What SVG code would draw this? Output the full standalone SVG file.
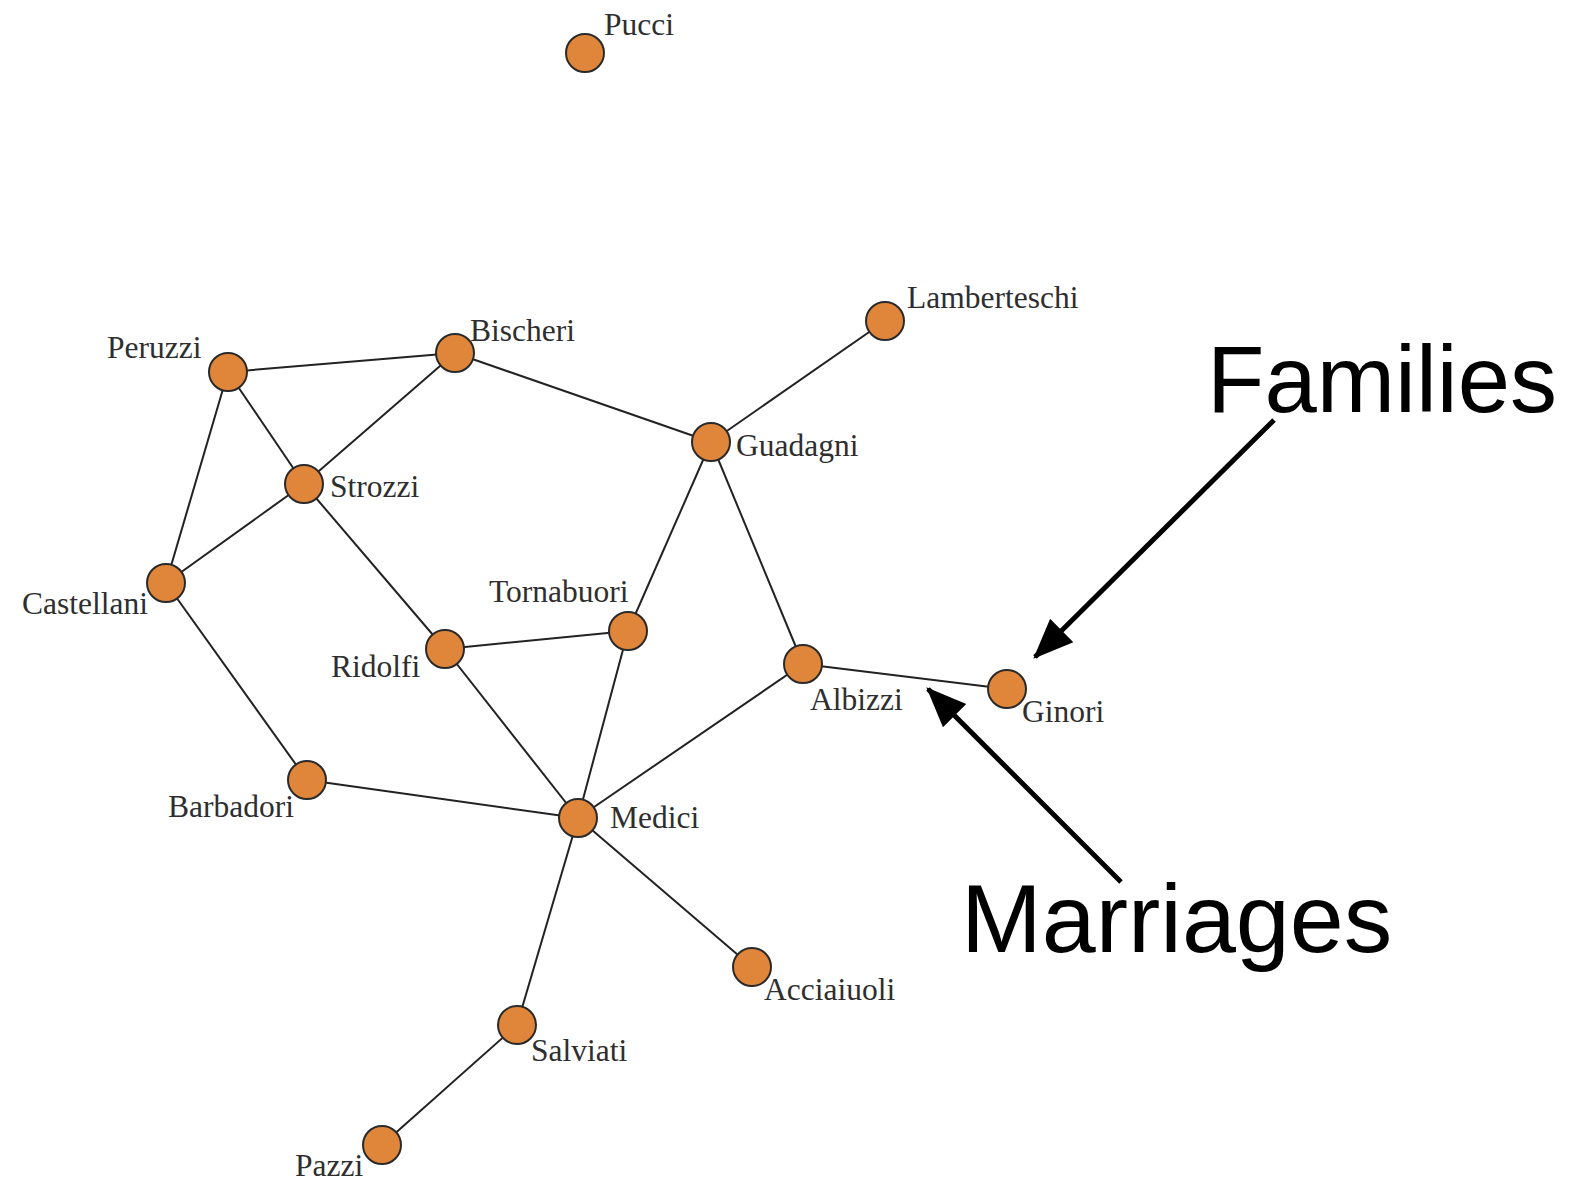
<svg xmlns="http://www.w3.org/2000/svg" width="1572" height="1182" viewBox="0 0 1572 1182">
<defs>
<style>
.edge{stroke:#222;stroke-width:2;fill:none}
.node circle{fill:#E0863A;stroke:#2a2a2a;stroke-width:2}
.node text{font-family:"Liberation Serif","Times New Roman",serif;font-size:31.5px;fill:#2e2e2e}
.big{font-family:"Liberation Sans",Arial,sans-serif;fill:#000}
.arrow{stroke:#000;stroke-width:5;fill:none}
</style>
<marker id="ah" markerUnits="userSpaceOnUse" markerWidth="40" markerHeight="40" viewBox="0 0 34 28" refX="32" refY="14" orient="auto">
<path d="M0,0 L34,14 L0,28 Z" fill="#000"/>
</marker>
</defs>
<rect width="1572" height="1182" fill="#fff"/>
<g id="connectors">
<line class="edge" x1="228" y1="372" x2="455" y2="353"/>
<line class="edge" x1="228" y1="372" x2="304" y2="484"/>
<line class="edge" x1="228" y1="372" x2="166" y2="583"/>
<line class="edge" x1="455" y1="353" x2="304" y2="484"/>
<line class="edge" x1="455" y1="353" x2="711" y2="442"/>
<line class="edge" x1="885" y1="321" x2="711" y2="442"/>
<line class="edge" x1="304" y1="484" x2="166" y2="583"/>
<line class="edge" x1="304" y1="484" x2="445" y2="649"/>
<line class="edge" x1="166" y1="583" x2="307" y2="780"/>
<line class="edge" x1="711" y1="442" x2="628" y2="631"/>
<line class="edge" x1="711" y1="442" x2="803" y2="664"/>
<line class="edge" x1="445" y1="649" x2="628" y2="631"/>
<line class="edge" x1="445" y1="649" x2="578" y2="818"/>
<line class="edge" x1="628" y1="631" x2="578" y2="818"/>
<line class="edge" x1="803" y1="664" x2="578" y2="818"/>
<line class="edge" x1="803" y1="664" x2="1007" y2="689"/>
<line class="edge" x1="307" y1="780" x2="578" y2="818"/>
<line class="edge" x1="578" y1="818" x2="752" y2="967"/>
<line class="edge" x1="578" y1="818" x2="517" y2="1025"/>
<line class="edge" x1="517" y1="1025" x2="382" y2="1145"/>
</g>
<g id="node-pucci" class="node"><circle cx="585" cy="53" r="19"/><text x="604" y="35">Pucci</text></g>
<g id="node-lamberteschi" class="node"><circle cx="885" cy="321" r="19"/><text x="907" y="308">Lamberteschi</text></g>
<g id="node-bischeri" class="node"><circle cx="455" cy="353" r="19"/><text x="470" y="341">Bischeri</text></g>
<g id="node-peruzzi" class="node"><circle cx="228" cy="372" r="19"/><text x="107" y="358">Peruzzi</text></g>
<g id="node-guadagni" class="node"><circle cx="711" cy="442" r="19"/><text x="736" y="456">Guadagni</text></g>
<g id="node-strozzi" class="node"><circle cx="304" cy="484" r="19"/><text x="330" y="497">Strozzi</text></g>
<g id="node-castellani" class="node"><circle cx="166" cy="583" r="19"/><text x="22" y="614">Castellani</text></g>
<g id="node-tornabuori" class="node"><circle cx="628" cy="631" r="19"/><text x="489" y="602">Tornabuori</text></g>
<g id="node-ridolfi" class="node"><circle cx="445" cy="649" r="19"/><text x="331" y="677">Ridolfi</text></g>
<g id="node-albizzi" class="node"><circle cx="803" cy="664" r="19"/><text x="810" y="710">Albizzi</text></g>
<g id="node-ginori" class="node"><circle cx="1007" cy="689" r="19"/><text x="1022" y="722">Ginori</text></g>
<g id="node-barbadori" class="node"><circle cx="307" cy="780" r="19"/><text x="168" y="817">Barbadori</text></g>
<g id="node-medici" class="node"><circle cx="578" cy="818" r="19"/><text x="610" y="828">Medici</text></g>
<g id="node-acciaiuoli" class="node"><circle cx="752" cy="967" r="19"/><text x="764" y="1000">Acciaiuoli</text></g>
<g id="node-salviati" class="node"><circle cx="517" cy="1025" r="19"/><text x="531" y="1061">Salviati</text></g>
<g id="node-pazzi" class="node"><circle cx="382" cy="1145" r="19"/><text x="295" y="1176">Pazzi</text></g>
<g id="annotations">
<text class="big" x="1207" y="412" font-size="94">Families</text>
<text class="big" x="961" y="952" font-size="97">Marriages</text>
<line class="arrow" x1="1274" y1="420" x2="1035" y2="657" marker-end="url(#ah)"/>
<line class="arrow" x1="1121" y1="882" x2="928" y2="689" marker-end="url(#ah)"/>
</g>
</svg>
